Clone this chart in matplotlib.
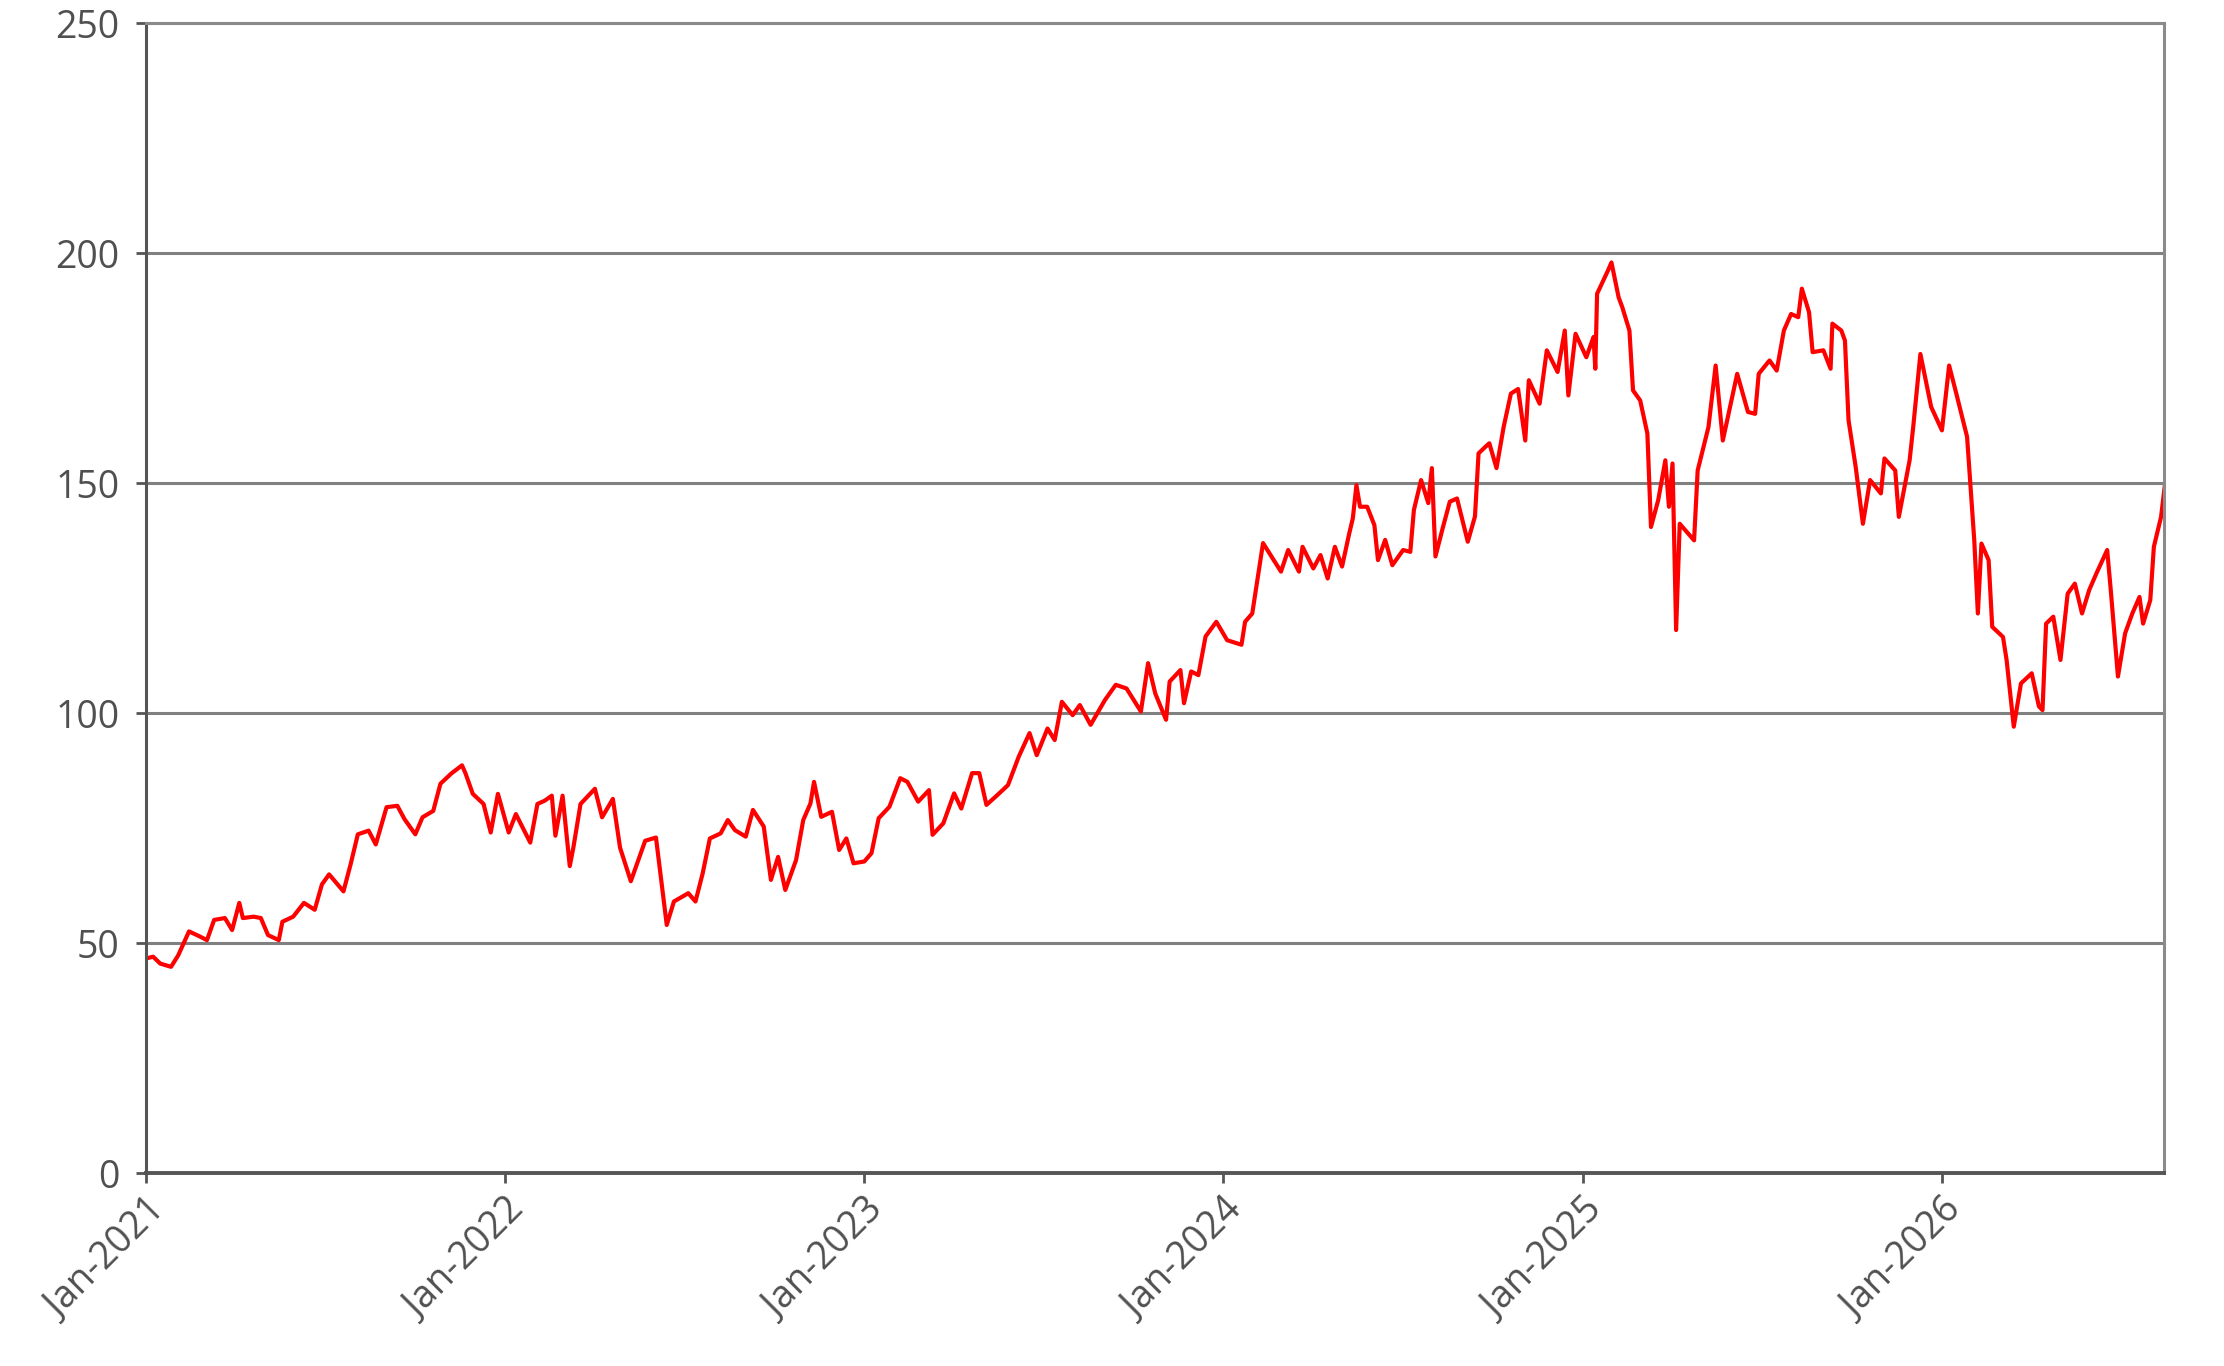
import numpy as np
import pandas as pd
import matplotlib
matplotlib.use("Agg")
import matplotlib.pyplot as plt
import matplotlib.dates as mdates

# Точки ряда: время в долях года и значение индекса
t_year = [
    2021.00, 2021.02, 2021.04, 2021.07, 2021.09, 2021.12, 2021.15, 2021.17, 2021.19, 2021.22,
    2021.24, 2021.26, 2021.27, 2021.30, 2021.32, 2021.34, 2021.37, 2021.38, 2021.41, 2021.44,
    2021.47, 2021.49, 2021.51, 2021.55, 2021.57, 2021.59, 2021.62, 2021.64, 2021.67, 2021.70,
    2021.72, 2021.75, 2021.77, 2021.80, 2021.82, 2021.85, 2021.88, 2021.89, 2021.91, 2021.94,
    2021.96, 2021.98, 2022.01, 2022.03, 2022.07, 2022.09, 2022.11, 2022.13, 2022.14, 2022.16,
    2022.18, 2022.19, 2022.21, 2022.25, 2022.27, 2022.30, 2022.32, 2022.35, 2022.37, 2022.39,
    2022.42, 2022.45, 2022.47,
    2022.51, 2022.53, 2022.55, 2022.57, 2022.60, 2022.62, 2022.64, 2022.67, 2022.69, 2022.72,
    2022.74, 2022.76, 2022.78, 2022.81, 2022.83, 2022.85, 2022.86, 2022.88, 2022.91, 2022.93,
    2022.95, 2022.97, 2023.00, 2023.02, 2023.04, 2023.07, 2023.10, 2023.12, 2023.15, 2023.18,
    2023.19, 2023.22, 2023.25, 2023.27, 2023.30, 2023.32, 2023.34, 2023.37, 2023.40, 2023.43,
    2023.46, 2023.48, 2023.51, 2023.53, 2023.55, 2023.58, 2023.60, 2023.63, 2023.67, 2023.70,
    2023.73, 2023.77, 2023.79, 2023.81, 2023.84, 2023.85, 2023.88, 2023.89, 2023.91,
    2023.93, 2023.95, 2023.98, 2024.01, 2024.05, 2024.06, 2024.08, 2024.09, 2024.11, 2024.14,
    2024.16, 2024.18, 2024.21, 2024.22, 2024.25, 2024.27, 2024.29, 2024.31, 2024.33, 2024.35,
    2024.36, 2024.37, 2024.38, 2024.40, 2024.42, 2024.43, 2024.45, 2024.47, 2024.50, 2024.52,
    2024.53, 2024.55, 2024.57, 2024.58, 2024.59, 2024.61, 2024.63, 2024.65, 2024.68, 2024.70,
    2024.71, 2024.73, 2024.74, 2024.76,
    2024.78, 2024.80, 2024.82, 2024.84, 2024.85, 2024.88, 2024.90, 2024.93, 2024.95, 2024.96,
    2024.98, 2025.01, 2025.03, 2025.035, 2025.04, 2025.07, 2025.08, 2025.10, 2025.11, 2025.13,
    2025.14, 2025.16, 2025.18, 2025.19, 2025.21, 2025.23, 2025.24, 2025.25, 2025.26, 2025.27,
    2025.31, 2025.32, 2025.35, 2025.37, 2025.39, 2025.43, 2025.46, 2025.48, 2025.49, 2025.52,
    2025.54, 2025.56, 2025.58, 2025.60, 2025.61, 2025.63, 2025.64, 2025.67, 2025.69, 2025.695,
    2025.72, 2025.73, 2025.74, 2025.76, 2025.78, 2025.80, 2025.83, 2025.84, 2025.87, 2025.88,
    2025.91, 2025.92, 2025.94, 2025.97, 2026.00, 2026.02, 2026.04, 2026.07, 2026.09, 2026.10,
    2026.11, 2026.13, 2026.14, 2026.17, 2026.18, 2026.20, 2026.22, 2026.25, 2026.27, 2026.28,
    2026.29, 2026.31, 2026.33, 2026.35, 2026.37, 2026.39, 2026.41, 2026.43, 2026.46, 2026.47,
    2026.49, 2026.51, 2026.53, 2026.55, 2026.56, 2026.58, 2026.59, 2026.61, 2026.62,
]

price = [
    46.7, 47.1, 45.6, 44.9, 47.4, 52.6, 51.5, 50.7, 55.1, 55.5,
    52.9, 58.8, 55.5, 55.8, 55.5, 51.8, 50.7, 54.7, 55.8, 58.8,
    57.3, 62.8, 65.0, 61.3, 67.2, 73.7, 74.5, 71.5, 79.6, 79.9,
    77.0, 73.7, 77.4, 78.8, 84.7, 86.9, 88.7, 86.9, 82.5, 80.3,
    74.1, 82.5, 74.1, 78.1, 71.9, 80.3, 81.0, 82.1, 73.4, 82.1,
    66.8, 70.8, 80.3, 83.6, 77.4, 81.4, 70.8, 63.5, 67.9, 72.3,
    73.0, 54.0, 59.1,
    60.9, 59.1, 65.2, 72.8, 73.9, 76.8, 74.6, 73.2, 79.0, 75.4,
    63.8, 68.8, 61.6, 68.1, 76.8, 80.4, 85.1, 77.5, 78.6, 70.3,
    72.8, 67.4, 67.8, 69.6, 77.2, 79.7, 85.9, 85.1, 80.8, 83.3,
    73.6, 76.1, 82.6, 79.3, 87.0, 87.0, 80.1, 82.2, 84.4, 90.6,
    95.7, 90.9, 96.7, 94.2, 102.5, 99.6, 101.8, 97.5, 102.9, 106.2,
    105.4, 100.4, 110.9, 104.3, 98.6, 106.9, 109.4, 102.2, 109.1,
    108.3, 116.7, 119.9, 115.9, 114.9, 119.9, 121.7, 126.8, 137.0, 133.3,
    130.8, 135.5, 130.8, 136.2, 131.5, 134.4, 129.3, 136.2, 131.9, 139.1,
    142.4, 149.6, 144.9, 144.9, 140.9, 133.3, 137.7, 132.2, 135.5, 135.1,
    144.2, 150.7, 145.7, 153.3, 134.1, 140.2, 146.0, 146.7, 137.3, 142.8,
    156.5, 158.0, 158.7, 153.3,
    162.3, 169.5, 170.5, 159.3, 172.4, 167.3, 178.9, 174.2, 183.2, 169.1,
    182.5, 177.4, 181.8, 174.9, 191.2, 196.2, 198.0, 190.4, 188.3, 183.2,
    170.2, 168.0, 160.8, 140.5, 146.3, 155.0, 144.9, 154.3, 118.1, 141.2,
    137.6, 152.8, 162.2, 175.6, 159.3, 173.8, 165.5, 165.1, 173.8, 176.7,
    174.5, 183.2, 186.8, 186.1, 192.3, 187.2, 178.5, 178.9, 174.9, 184.7,
    183.2, 181.0, 163.7, 153.5, 141.2, 150.7, 147.8, 155.4, 152.8, 142.7,
    155.0, 162.2, 178.1, 166.6, 161.5, 175.6, 169.5, 160.1, 137.6, 121.7,
    136.9, 133.3, 118.8, 116.6, 111.6, 97.1, 106.5, 108.7, 101.5, 100.7,
    119.5, 121.0, 111.6, 126.0, 128.2, 121.7, 126.8, 130.4, 135.5, 126.8,
    108.0, 117.4, 121.7, 125.3, 119.5, 124.6, 136.2, 142.7, 149.2,
]

y_ticks = [0, 50, 100, 150, 200, 250]

# Перевод долей года в даты
base = pd.Timestamp("2021-01-01")
dates = base + pd.to_timedelta((np.array(t_year) - 2021.0) * 365.25, unit="D")

fig = plt.figure(figsize=(22.24, 13.66), dpi=100)
ax = fig.add_axes([0.0656, 0.141, 0.9074, 0.842])

ax.plot(dates, price, color="#ff0000", linewidth=3.0, solid_joinstyle="round")

ax.set_ylim(0, 250)
ax.set_yticks(y_ticks)
ax.set_xlim(base, base + pd.Timedelta(days=int(5.62 * 365.25)))

ax.xaxis.set_major_locator(mdates.YearLocator())
ax.xaxis.set_major_formatter(mdates.DateFormatter("%b-%Y"))

# Сетка и рамка
ax.yaxis.grid(True, color="#808080", linewidth=2.2)
ax.set_axisbelow(True)
ax.spines["left"].set_color("#555555")
ax.spines["left"].set_linewidth(2.2)
ax.spines["bottom"].set_color("#555555")
ax.spines["bottom"].set_linewidth(2.8)
ax.spines["top"].set_color("#8a8a8a")
ax.spines["top"].set_linewidth(2.2)
ax.spines["right"].set_color("#8a8a8a")
ax.spines["right"].set_linewidth(2.2)

ax.tick_params(axis="both", colors="#555555", labelcolor="#505050",
               labelsize=27, length=7, width=2)
ax.tick_params(axis="y", pad=12)
ax.tick_params(axis="x", pad=6)

for lbl in ax.get_yticklabels() + ax.get_xticklabels():
    lbl.set_family(["Open Sans", "DejaVu Sans"])
for lbl in ax.get_xticklabels():
    lbl.set_rotation(45)
    lbl.set_ha("right")
    lbl.set_rotation_mode("anchor")

fig.savefig("out.png", dpi=100, facecolor="white")
